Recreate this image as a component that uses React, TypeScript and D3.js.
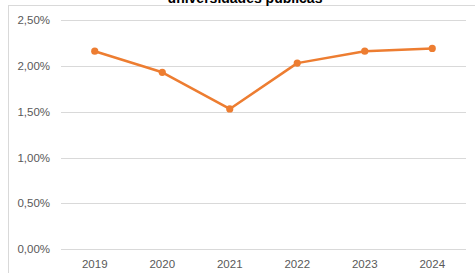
import React from "react";
import * as d3 from "d3";

const years = ["2019", "2020", "2021", "2022", "2023", "2024"];
const values = [2.16, 1.93, 1.53, 2.03, 2.16, 2.19];
const yTicks = [0, 0.5, 1, 1.5, 2, 2.5];
const title = "universidades públicas";

export default function App() {
  const W = 475, H = 273;
  const x = d3.scaleBand().domain(years).range([61, 466]);
  const y = d3.scaleLinear().domain([0, 2.5]).range([249.3, 20]);
  const line = d3.line<number>()
    .x((_, i) => (x(years[i]) as number) + x.bandwidth() / 2)
    .y((d) => y(d));
  const fmt = (v: number) => v.toFixed(2).replace(".", ",") + "%";
  const font = "'Liberation Sans', Arial, sans-serif";
  return (
    <svg width={W} height={H} style={{ position: "absolute", left: 0, top: 0, background: "#fff" }} fontFamily={font}>
      <rect x={8.5} y={5.5} width={W + 10} height={H + 10} fill="#fff" stroke="#D9D9D9" strokeWidth={1} />
      <text x={245} y={3} textAnchor="middle" fontSize={14} fontWeight="bold" fill="#000">{title}</text>
      {yTicks.map((t) => (
        <g key={t}>
          <line x1={61} x2={466} y1={Math.round(y(t)) + 0.5} y2={Math.round(y(t)) + 0.5} stroke="#D9D9D9" strokeWidth={1} />
          <text x={50} y={y(t)} dy="0.35em" textAnchor="end" fontSize={11.5} fill="#595959">{fmt(t)}</text>
        </g>
      ))}
      {years.map((yr) => (
        <text key={yr} x={(x(yr) as number) + x.bandwidth() / 2} y={267.5} textAnchor="middle" fontSize={11.5} fill="#595959">{yr}</text>
      ))}
      <path d={line(values) || ""} fill="none" stroke="#ED7D31" strokeWidth={2.5} strokeLinejoin="round" strokeLinecap="round" />
      {values.map((v, i) => (
        <circle key={i} cx={(x(years[i]) as number) + x.bandwidth() / 2} cy={y(v)} r={3.6} fill="#ED7D31" />
      ))}
    </svg>
  );
}
